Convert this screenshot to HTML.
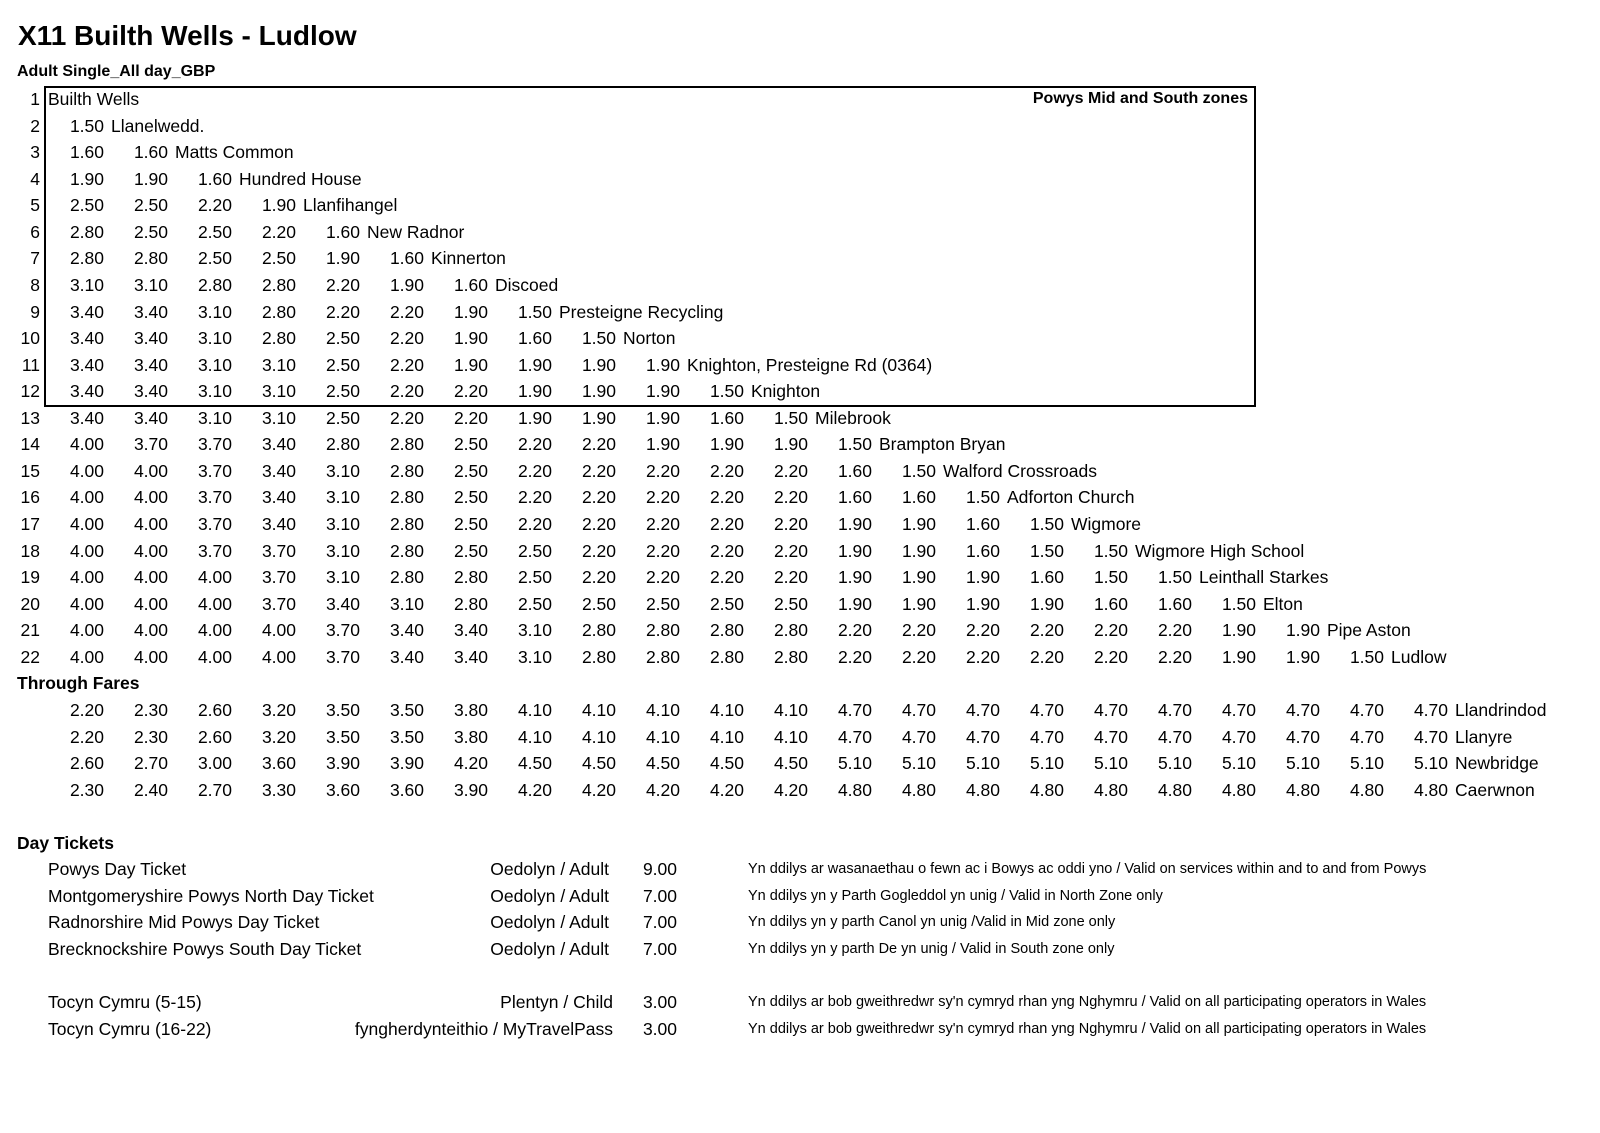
<!DOCTYPE html>
<html><head><meta charset="utf-8"><style>
body{margin:0;width:1600px;height:1133px;background:#fff;position:relative;font-family:"Liberation Sans",sans-serif;color:#000;overflow:hidden}
.t{position:absolute;left:18px;top:20px;font-size:28px;font-weight:bold}
.s{position:absolute;left:17px;top:63px;font-size:16px;font-weight:bold}
.box{position:absolute;left:44px;top:86px;width:1208px;height:317px;border:2px solid #000}
.g{position:absolute;left:0;top:86px;width:1600px}
.r{height:26.57px;line-height:26.57px;font-size:17.5px;white-space:nowrap;display:flex;position:relative}
.r i{font-style:normal;display:inline-block;width:40px;text-align:right;flex:none}
.r b{font-weight:normal;display:inline-block;width:64px;text-align:right;flex:none}
.r u{text-decoration:none;margin-left:7px}
.h{font-weight:bold;padding-left:17px}
.a{position:absolute}
.n{position:absolute;left:748px;font-size:14.5px}
.z{position:absolute;right:352px;font-weight:bold;font-size:16px}
</style></head><body>
<div class="t">X11 Builth Wells - Ludlow</div>
<div class="s">Adult Single_All day_GBP</div>
<div class="box"></div>
<div class="g">
<div class="r"><i>1</i><u style="margin-left:8px">Builth Wells</u><span class="z">Powys Mid and South zones</span></div>
<div class="r"><i>2</i><b>1.50</b><u>Llanelwedd.</u></div>
<div class="r"><i>3</i><b>1.60</b><b>1.60</b><u>Matts Common</u></div>
<div class="r"><i>4</i><b>1.90</b><b>1.90</b><b>1.60</b><u>Hundred House</u></div>
<div class="r"><i>5</i><b>2.50</b><b>2.50</b><b>2.20</b><b>1.90</b><u>Llanfihangel</u></div>
<div class="r"><i>6</i><b>2.80</b><b>2.50</b><b>2.50</b><b>2.20</b><b>1.60</b><u>New Radnor</u></div>
<div class="r"><i>7</i><b>2.80</b><b>2.80</b><b>2.50</b><b>2.50</b><b>1.90</b><b>1.60</b><u>Kinnerton</u></div>
<div class="r"><i>8</i><b>3.10</b><b>3.10</b><b>2.80</b><b>2.80</b><b>2.20</b><b>1.90</b><b>1.60</b><u>Discoed</u></div>
<div class="r"><i>9</i><b>3.40</b><b>3.40</b><b>3.10</b><b>2.80</b><b>2.20</b><b>2.20</b><b>1.90</b><b>1.50</b><u>Presteigne Recycling</u></div>
<div class="r"><i>10</i><b>3.40</b><b>3.40</b><b>3.10</b><b>2.80</b><b>2.50</b><b>2.20</b><b>1.90</b><b>1.60</b><b>1.50</b><u>Norton</u></div>
<div class="r"><i>11</i><b>3.40</b><b>3.40</b><b>3.10</b><b>3.10</b><b>2.50</b><b>2.20</b><b>1.90</b><b>1.90</b><b>1.90</b><b>1.90</b><u>Knighton, Presteigne Rd (0364)</u></div>
<div class="r"><i>12</i><b>3.40</b><b>3.40</b><b>3.10</b><b>3.10</b><b>2.50</b><b>2.20</b><b>2.20</b><b>1.90</b><b>1.90</b><b>1.90</b><b>1.50</b><u>Knighton</u></div>
<div class="r"><i>13</i><b>3.40</b><b>3.40</b><b>3.10</b><b>3.10</b><b>2.50</b><b>2.20</b><b>2.20</b><b>1.90</b><b>1.90</b><b>1.90</b><b>1.60</b><b>1.50</b><u>Milebrook</u></div>
<div class="r"><i>14</i><b>4.00</b><b>3.70</b><b>3.70</b><b>3.40</b><b>2.80</b><b>2.80</b><b>2.50</b><b>2.20</b><b>2.20</b><b>1.90</b><b>1.90</b><b>1.90</b><b>1.50</b><u>Brampton Bryan</u></div>
<div class="r"><i>15</i><b>4.00</b><b>4.00</b><b>3.70</b><b>3.40</b><b>3.10</b><b>2.80</b><b>2.50</b><b>2.20</b><b>2.20</b><b>2.20</b><b>2.20</b><b>2.20</b><b>1.60</b><b>1.50</b><u>Walford Crossroads</u></div>
<div class="r"><i>16</i><b>4.00</b><b>4.00</b><b>3.70</b><b>3.40</b><b>3.10</b><b>2.80</b><b>2.50</b><b>2.20</b><b>2.20</b><b>2.20</b><b>2.20</b><b>2.20</b><b>1.60</b><b>1.60</b><b>1.50</b><u>Adforton Church</u></div>
<div class="r"><i>17</i><b>4.00</b><b>4.00</b><b>3.70</b><b>3.40</b><b>3.10</b><b>2.80</b><b>2.50</b><b>2.20</b><b>2.20</b><b>2.20</b><b>2.20</b><b>2.20</b><b>1.90</b><b>1.90</b><b>1.60</b><b>1.50</b><u>Wigmore</u></div>
<div class="r"><i>18</i><b>4.00</b><b>4.00</b><b>3.70</b><b>3.70</b><b>3.10</b><b>2.80</b><b>2.50</b><b>2.50</b><b>2.20</b><b>2.20</b><b>2.20</b><b>2.20</b><b>1.90</b><b>1.90</b><b>1.60</b><b>1.50</b><b>1.50</b><u>Wigmore High School</u></div>
<div class="r"><i>19</i><b>4.00</b><b>4.00</b><b>4.00</b><b>3.70</b><b>3.10</b><b>2.80</b><b>2.80</b><b>2.50</b><b>2.20</b><b>2.20</b><b>2.20</b><b>2.20</b><b>1.90</b><b>1.90</b><b>1.90</b><b>1.60</b><b>1.50</b><b>1.50</b><u>Leinthall Starkes</u></div>
<div class="r"><i>20</i><b>4.00</b><b>4.00</b><b>4.00</b><b>3.70</b><b>3.40</b><b>3.10</b><b>2.80</b><b>2.50</b><b>2.50</b><b>2.50</b><b>2.50</b><b>2.50</b><b>1.90</b><b>1.90</b><b>1.90</b><b>1.90</b><b>1.60</b><b>1.60</b><b>1.50</b><u>Elton</u></div>
<div class="r"><i>21</i><b>4.00</b><b>4.00</b><b>4.00</b><b>4.00</b><b>3.70</b><b>3.40</b><b>3.40</b><b>3.10</b><b>2.80</b><b>2.80</b><b>2.80</b><b>2.80</b><b>2.20</b><b>2.20</b><b>2.20</b><b>2.20</b><b>2.20</b><b>2.20</b><b>1.90</b><b>1.90</b><u>Pipe Aston</u></div>
<div class="r"><i>22</i><b>4.00</b><b>4.00</b><b>4.00</b><b>4.00</b><b>3.70</b><b>3.40</b><b>3.40</b><b>3.10</b><b>2.80</b><b>2.80</b><b>2.80</b><b>2.80</b><b>2.20</b><b>2.20</b><b>2.20</b><b>2.20</b><b>2.20</b><b>2.20</b><b>1.90</b><b>1.90</b><b>1.50</b><u>Ludlow</u></div>
<div class="r"><span class="h">Through Fares</span></div>
<div class="r"><i></i><b>2.20</b><b>2.30</b><b>2.60</b><b>3.20</b><b>3.50</b><b>3.50</b><b>3.80</b><b>4.10</b><b>4.10</b><b>4.10</b><b>4.10</b><b>4.10</b><b>4.70</b><b>4.70</b><b>4.70</b><b>4.70</b><b>4.70</b><b>4.70</b><b>4.70</b><b>4.70</b><b>4.70</b><b>4.70</b><u>Llandrindod</u></div>
<div class="r"><i></i><b>2.20</b><b>2.30</b><b>2.60</b><b>3.20</b><b>3.50</b><b>3.50</b><b>3.80</b><b>4.10</b><b>4.10</b><b>4.10</b><b>4.10</b><b>4.10</b><b>4.70</b><b>4.70</b><b>4.70</b><b>4.70</b><b>4.70</b><b>4.70</b><b>4.70</b><b>4.70</b><b>4.70</b><b>4.70</b><u>Llanyre</u></div>
<div class="r"><i></i><b>2.60</b><b>2.70</b><b>3.00</b><b>3.60</b><b>3.90</b><b>3.90</b><b>4.20</b><b>4.50</b><b>4.50</b><b>4.50</b><b>4.50</b><b>4.50</b><b>5.10</b><b>5.10</b><b>5.10</b><b>5.10</b><b>5.10</b><b>5.10</b><b>5.10</b><b>5.10</b><b>5.10</b><b>5.10</b><u>Newbridge</u></div>
<div class="r"><i></i><b>2.30</b><b>2.40</b><b>2.70</b><b>3.30</b><b>3.60</b><b>3.60</b><b>3.90</b><b>4.20</b><b>4.20</b><b>4.20</b><b>4.20</b><b>4.20</b><b>4.80</b><b>4.80</b><b>4.80</b><b>4.80</b><b>4.80</b><b>4.80</b><b>4.80</b><b>4.80</b><b>4.80</b><b>4.80</b><u>Caerwnon</u></div>
<div class="r"></div>
<div class="r"><span class="h">Day Tickets</span></div>
<div class="r"><span class="a" style="left:48px">Powys Day Ticket</span><span class="a" style="right:991px">Oedolyn / Adult</span><span class="a" style="right:923px">9.00</span><span class="n">Yn ddilys ar wasanaethau o fewn ac i Bowys ac oddi yno / Valid on services within and to and from Powys</span></div>
<div class="r"><span class="a" style="left:48px">Montgomeryshire Powys North Day Ticket</span><span class="a" style="right:991px">Oedolyn / Adult</span><span class="a" style="right:923px">7.00</span><span class="n">Yn ddilys yn y Parth Gogleddol yn unig / Valid in North Zone only</span></div>
<div class="r"><span class="a" style="left:48px">Radnorshire Mid Powys Day Ticket</span><span class="a" style="right:991px">Oedolyn / Adult</span><span class="a" style="right:923px">7.00</span><span class="n">Yn ddilys yn y parth Canol yn unig /Valid in Mid zone only</span></div>
<div class="r"><span class="a" style="left:48px">Brecknockshire Powys South Day Ticket</span><span class="a" style="right:991px">Oedolyn / Adult</span><span class="a" style="right:923px">7.00</span><span class="n">Yn ddilys yn y parth De yn unig / Valid in South zone only</span></div>
<div class="r"></div>
<div class="r"><span class="a" style="left:48px">Tocyn Cymru (5-15)</span><span class="a" style="right:987px">Plentyn / Child</span><span class="a" style="right:923px">3.00</span><span class="n">Yn ddilys ar bob gweithredwr sy'n cymryd rhan yng Nghymru / Valid on all participating operators in Wales</span></div>
<div class="r"><span class="a" style="left:48px">Tocyn Cymru (16-22)</span><span class="a" style="right:987px">fyngherdynteithio / MyTravelPass</span><span class="a" style="right:923px">3.00</span><span class="n">Yn ddilys ar bob gweithredwr sy'n cymryd rhan yng Nghymru / Valid on all participating operators in Wales</span></div>
</div>
</body></html>
